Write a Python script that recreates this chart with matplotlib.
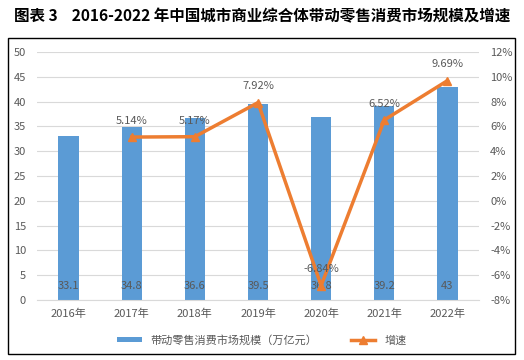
import numpy as np
import matplotlib
matplotlib.use('Agg')
from matplotlib import pyplot as plt
from matplotlib.patches import Rectangle
from matplotlib.ticker import FuncFormatter

plt.rcParams['font.family'] = ['Noto Sans CJK SC', 'DejaVu Sans']

years = ['2016年', '2017年', '2018年', '2019年', '2020年', '2021年', '2022年']
scale = [33.1, 34.8, 36.6, 39.5, 36.8, 39.2, 43]
scale_labels = ['33.1', '34.8', '36.6', '39.5', '36.8', '39.2', '43']
growth = [np.nan, 5.14, 5.17, 7.92, -6.84, 6.52, 9.69]

bar_color = '#5B9BD5'
line_color = '#ED7D31'
text_color = '#595959'

fig = plt.figure(figsize=(5.24, 3.6), dpi=100)
W, H = 524, 360

# outer frame
fig.patches.append(Rectangle((8 / W, 1 - 354 / H), 507 / W, 316 / H, transform=fig.transFigure,
	fill=False, edgecolor='black', linewidth=1.0))

fig.text(0.5, 1 - 16 / H, '图表 3    2016-2022 年中国城市商业综合体带动零售消费市场规模及增速',
	ha='center', va='center', fontsize=11.2, fontweight='bold', color='black')

ax = fig.add_axes([37 / W, 1 - 300 / H, 442 / W, 248 / H])
x = np.arange(len(years))
ax.bar(x, scale, width=0.32, color=bar_color, zorder=2, label='带动零售消费市场规模（万亿元）')
ax.set_ylim(0, 50)
ax.set_yticks(np.arange(0, 51, 5))
ax.set_xlim(-0.5, len(years) - 0.5)
ax.set_xticks(x)
ax.set_xticklabels(years)
ax.yaxis.grid(True, color='#D9D9D9', linewidth=0.8, zorder=0)
ax.set_axisbelow(True)
for s in ['top', 'right', 'left']:
	ax.spines[s].set_visible(False)
ax.spines['bottom'].set_color('#D9D9D9')
ax.tick_params(axis='both', length=0, labelsize=8, colors=text_color)
ax.tick_params(axis='x', pad=6)
ax.tick_params(axis='y', pad=8)

for xi, lab in zip(x, scale_labels):
	ax.text(xi, 2.8, lab, ha='center', va='center', fontsize=8, color=text_color, zorder=4)

ax2 = ax.twinx()
ax2.plot(x, growth, color=line_color, linewidth=2.5, marker='^', markersize=6,
	label='增速', zorder=3)
ax2.set_ylim(-8, 12)
ax2.set_yticks(np.arange(-8, 13, 2))
ax2.yaxis.set_major_formatter(FuncFormatter(lambda v, p: f'{int(v)}%'))
for s in ['top', 'right', 'left', 'bottom']:
	ax2.spines[s].set_visible(False)
ax2.tick_params(axis='y', length=0, labelsize=8, colors=text_color, pad=8)

for xi, g in zip(x, growth):
	if np.isnan(g):
		continue
	ax2.text(xi, g + 0.9, f'{g:.2f}%', ha='center', va='bottom', fontsize=8, color=text_color, zorder=4)

h1, l1 = ax.get_legend_handles_labels()
h2, l2 = ax2.get_legend_handles_labels()
fig.legend(h1 + h2, l1 + l2, loc='center', bbox_to_anchor=(0.5, 1 - 340 / H), ncol=2,
	frameon=False, fontsize=8, labelcolor=text_color, handlelength=2.2, columnspacing=3,
	handleheight=0.3)

plt.savefig('out.png', dpi=100)
